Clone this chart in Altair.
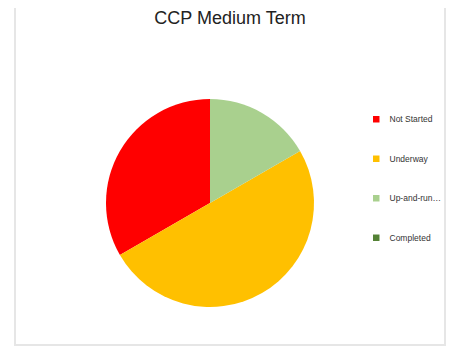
import altair as alt
import pandas as pd

title_text = "CCP Medium Term"
categories = ["Not Started", "Underway", "Up-and-running", "Completed"]
counts = [2, 3, 1, 0]
colors = ["#FF0000", "#FFC000", "#A9D08E", "#548235"]
draw_order = ["Up-and-running", "Underway", "Not Started", "Completed"]

df = pd.DataFrame({
    "status": categories,
    "count": counts,
    "rank": [draw_order.index(c) for c in categories],
})

one = pd.DataFrame({"t": [title_text]})

frame = alt.Chart(one).mark_rect(
    fill=None, stroke="#e6e6e6", strokeWidth=2
).encode(
    x=alt.value(7), x2=alt.value(437), y=alt.value(-4), y2=alt.value(337)
)

title = alt.Chart(one).mark_text(
    font="Liberation Sans", fontSize=18, color="#222222",
    align="center", baseline="alphabetic"
).encode(
    text="t:N", x=alt.value(222), y=alt.value(16)
)

pie = alt.Chart(df).mark_arc(stroke=None).encode(
    theta=alt.Theta("count:Q", stack=True),
    color=alt.Color(
        "status:N",
        scale=alt.Scale(domain=categories, range=colors),
        legend=alt.Legend(
            title=None,
            orient="none",
            legendX=364,
            legendY=107,
            symbolType="square",
            symbolSize=42,
            symbolStrokeWidth=0,
            labelFont="Liberation Sans",
            labelFontSize=8.5,
            labelColor="#333333",
            labelLimit=56,
            rowPadding=30.5,
            labelOffset=9,
        ),
    ),
    order=alt.Order("rank:Q"),
    x=alt.value(202),
    y=alt.value(195),
    radius=alt.value(104),
)

chart = alt.layer(frame, pie, title).properties(
    width=438,
    height=342,
    autosize=alt.AutoSizeParams(type="none"),
    padding=0,
).configure_view(stroke=None)

chart.save("out.html", embed_options={"renderer": "svg", "actions": False})
